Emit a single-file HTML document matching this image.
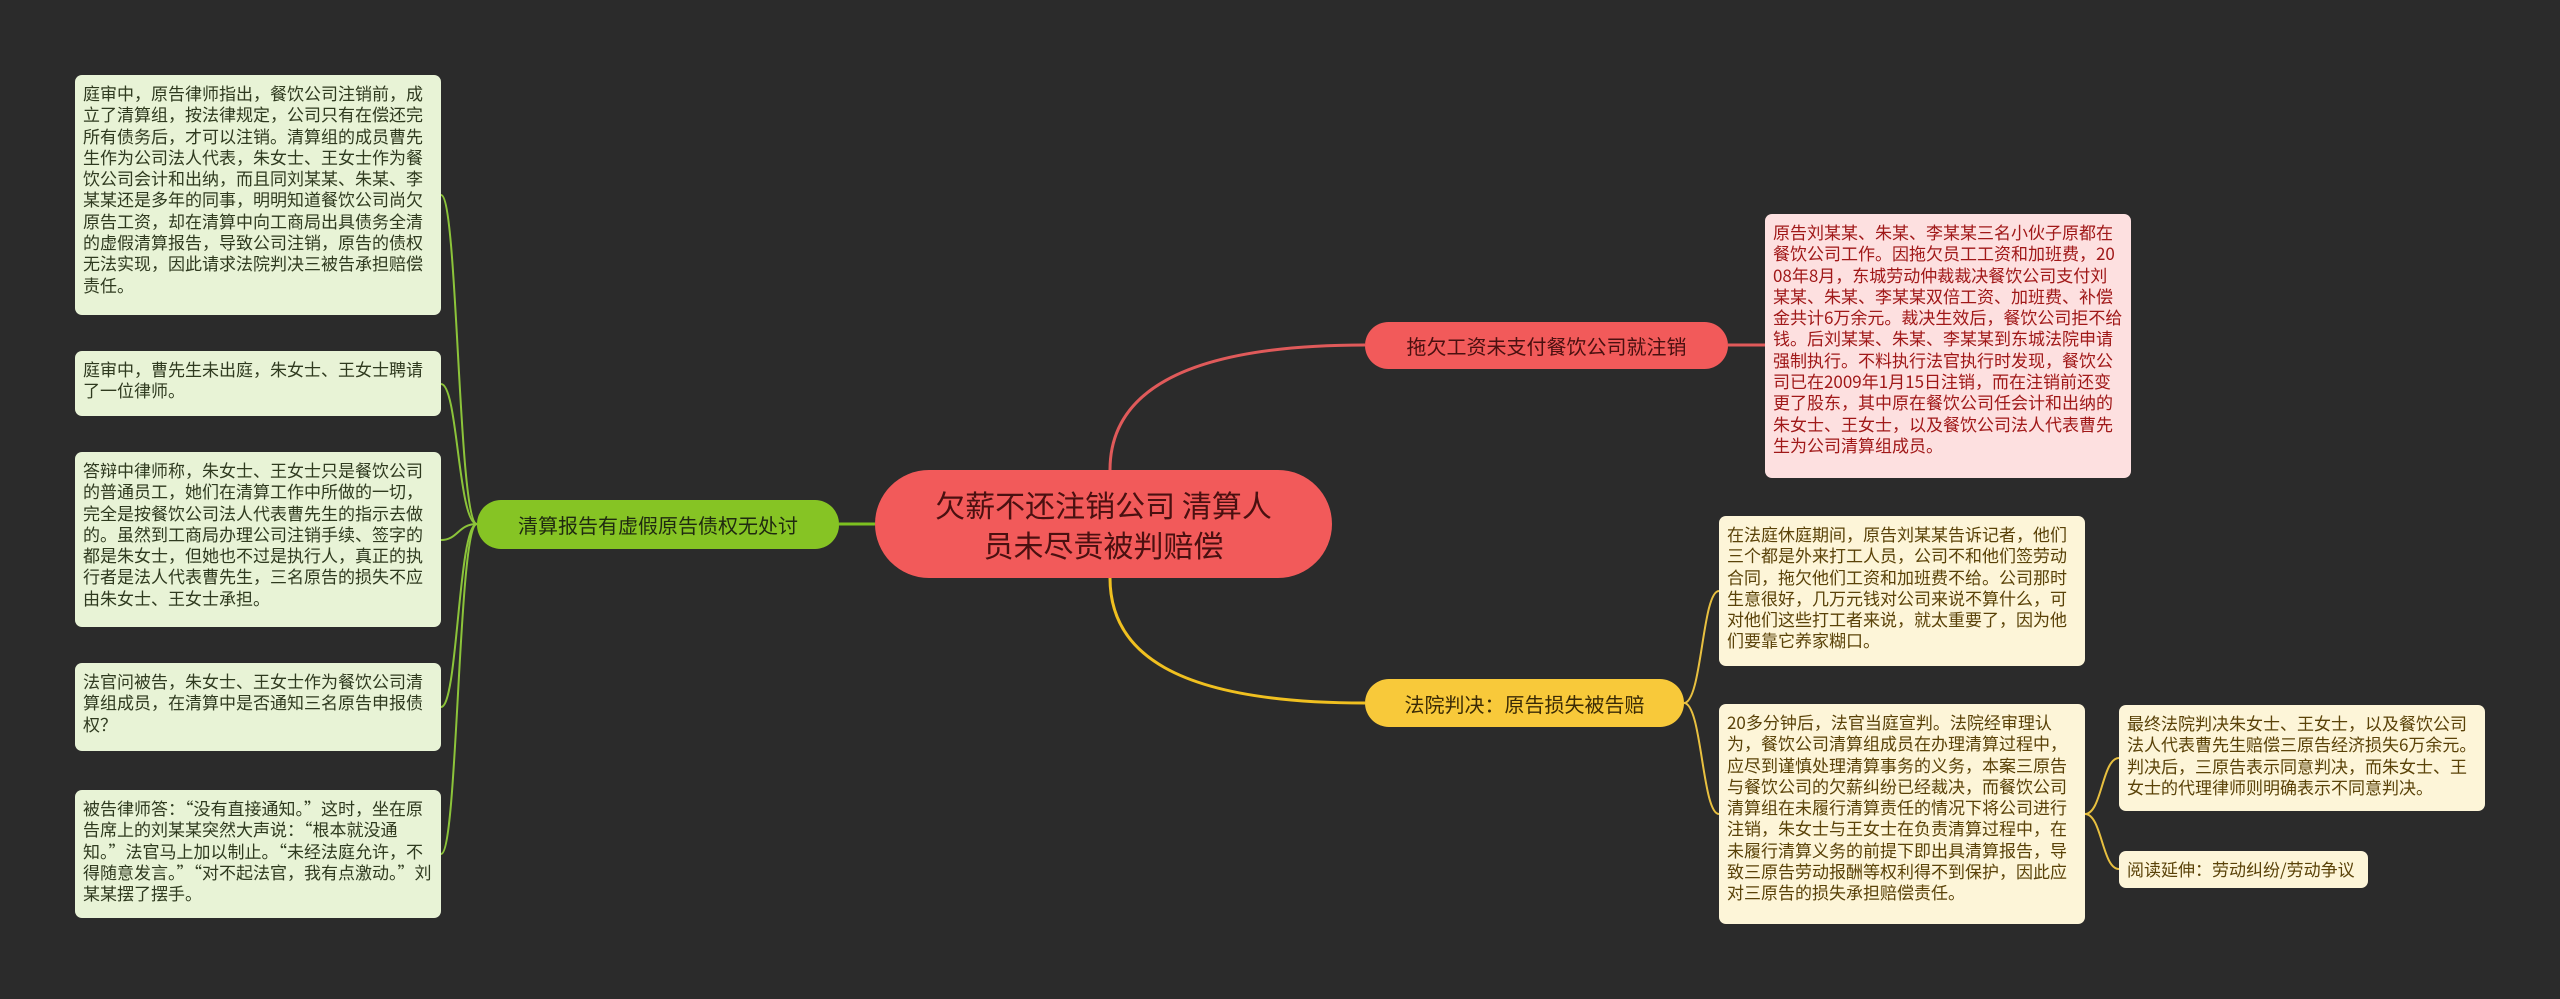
<!DOCTYPE html>
<html><head><meta charset="utf-8"><style>
body{margin:0;width:2560px;height:999px;background:#2b2b2b;position:relative;overflow:hidden;font-family:"Noto Sans CJK SC","Liberation Sans",sans-serif}
.b{position:absolute;box-sizing:border-box;border-radius:7px;font-size:17px;line-height:21.3px;padding:7px 8px;word-break:break-all}
.g{background:#e8f3d6;color:#2f3a1f;left:75px;width:366px}
.y{background:#fdf5d8;color:#5a4208;width:366px}
.p{background:#fde0e0;color:#a01818}
.n{position:absolute;box-sizing:border-box;display:flex;align-items:center;justify-content:center;font-size:20px;border-radius:24px}
</style></head><body>
<svg width="2560" height="999" style="position:absolute;left:0;top:0" fill="none">
<path d="M1110 470 C1110 400 1170 345 1365 345" stroke="#e05a5a" stroke-width="3"/>
<path d="M1110 578 C1110 650 1170 703 1365 703" stroke="#f0c020" stroke-width="3"/>
<path d="M875 524 L839 524" stroke="#7cc020" stroke-width="3"/>
<path d="M1728 345 L1765 345" stroke="#e05a5a" stroke-width="3"/>
<g stroke="#8cc43a" stroke-width="2">
<path d="M477 524 C458 524 458 195 441 195"/>
<path d="M477 524 C458 524 458 384 441 384"/>
<path d="M477 524 C458 524 458 540 441 540"/>
<path d="M477 524 C458 524 458 707 441 707"/>
<path d="M477 524 C458 524 458 854 441 854"/>
</g>
<g stroke="#e8c040" stroke-width="2">
<path d="M1684 703 C1702 703 1702 591 1719 591"/>
<path d="M1684 703 C1702 703 1702 814 1719 814"/>
<path d="M2085 814 C2102 814 2102 758 2119 758"/>
<path d="M2085 814 C2102 814 2102 869 2119 869"/>
</g>
</svg>
<div class="b g" style="top:75px;height:240px">庭审中，原告律师指出，餐饮公司注销前，成立了清算组，按法律规定，公司只有在偿还完所有债务后，才可以注销。清算组的成员曹先生作为公司法人代表，朱女士、王女士作为餐饮公司会计和出纳，而且同刘某某、朱某、李某某还是多年的同事，明明知道餐饮公司尚欠原告工资，却在清算中向工商局出具债务全清的虚假清算报告，导致公司注销，原告的债权无法实现，因此请求法院判决三被告承担赔偿责任。</div>
<div class="b g" style="top:351px;height:65px">庭审中，曹先生未出庭，朱女士、王女士聘请了一位律师。</div>
<div class="b g" style="top:452px;height:175px">答辩中律师称，朱女士、王女士只是餐饮公司的普通员工，她们在清算工作中所做的一切，完全是按餐饮公司法人代表曹先生的指示去做的。虽然到工商局办理公司注销手续、签字的都是朱女士，但她也不过是执行人，真正的执行者是法人代表曹先生，三名原告的损失不应由朱女士、王女士承担。</div>
<div class="b g" style="top:663px;height:88px">法官问被告，朱女士、王女士作为餐饮公司清算组成员，在清算中是否通知三名原告申报债权？</div>
<div class="b g" style="top:790px;height:128px">被告律师答：“没有直接通知。”这时，坐在原告席上的刘某某突然大声说：“根本就没通知。”法官马上加以制止。“未经法庭允许，不得随意发言。”“对不起法官，我有点激动。”刘某某摆了摆手。</div>
<div class="n" style="left:477px;top:500px;width:362px;height:49px;background:#86c424;color:#1f2a10">清算报告有虚假原告债权无处讨</div>
<div class="n" style="left:875px;top:470px;width:457px;height:108px;background:#f25a5a;color:#4a1010;font-size:30px;line-height:40px;border-radius:54px;text-align:center;padding:0 55px">欠薪不还注销公司 清算人员未尽责被判赔偿</div>
<div class="n" style="left:1365px;top:322px;width:363px;height:47px;background:#f25a5a;color:#4a1010">拖欠工资未支付餐饮公司就注销</div>
<div class="b p" style="left:1765px;top:214px;width:366px;height:264px">原告刘某某、朱某、李某某三名小伙子原都在餐饮公司工作。因拖欠员工工资和加班费，2008年8月，东城劳动仲裁裁决餐饮公司支付刘某某、朱某、李某某双倍工资、加班费、补偿金共计6万余元。裁决生效后，餐饮公司拒不给钱。后刘某某、朱某、李某某到东城法院申请强制执行。不料执行法官执行时发现，餐饮公司已在2009年1月15日注销，而在注销前还变更了股东，其中原在餐饮公司任会计和出纳的朱女士、王女士，以及餐饮公司法人代表曹先生为公司清算组成员。</div>
<div class="n" style="left:1365px;top:679px;width:319px;height:48px;background:#f8c93a;color:#3a2a05">法院判决：原告损失被告赔</div>
<div class="b y" style="left:1719px;top:516px;height:150px">在法庭休庭期间，原告刘某某告诉记者，他们三个都是外来打工人员，公司不和他们签劳动合同，拖欠他们工资和加班费不给。公司那时生意很好，几万元钱对公司来说不算什么，可对他们这些打工者来说，就太重要了，因为他们要靠它养家糊口。</div>
<div class="b y" style="left:1719px;top:704px;height:220px">20多分钟后，法官当庭宣判。法院经审理认为，餐饮公司清算组成员在办理清算过程中，应尽到谨慎处理清算事务的义务，本案三原告与餐饮公司的欠薪纠纷已经裁决，而餐饮公司清算组在未履行清算责任的情况下将公司进行注销，朱女士与王女士在负责清算过程中，在未履行清算义务的前提下即出具清算报告，导致三原告劳动报酬等权利得不到保护，因此应对三原告的损失承担赔偿责任。</div>
<div class="b y" style="left:2119px;top:705px;height:106px">最终法院判决朱女士、王女士，以及餐饮公司法人代表曹先生赔偿三原告经济损失6万余元。判决后，三原告表示同意判决，而朱女士、王女士的代理律师则明确表示不同意判决。</div>
<div class="b y" style="left:2119px;top:851px;width:249px;height:37px;padding-top:7px">阅读延伸：劳动纠纷/劳动争议</div>
</body></html>
